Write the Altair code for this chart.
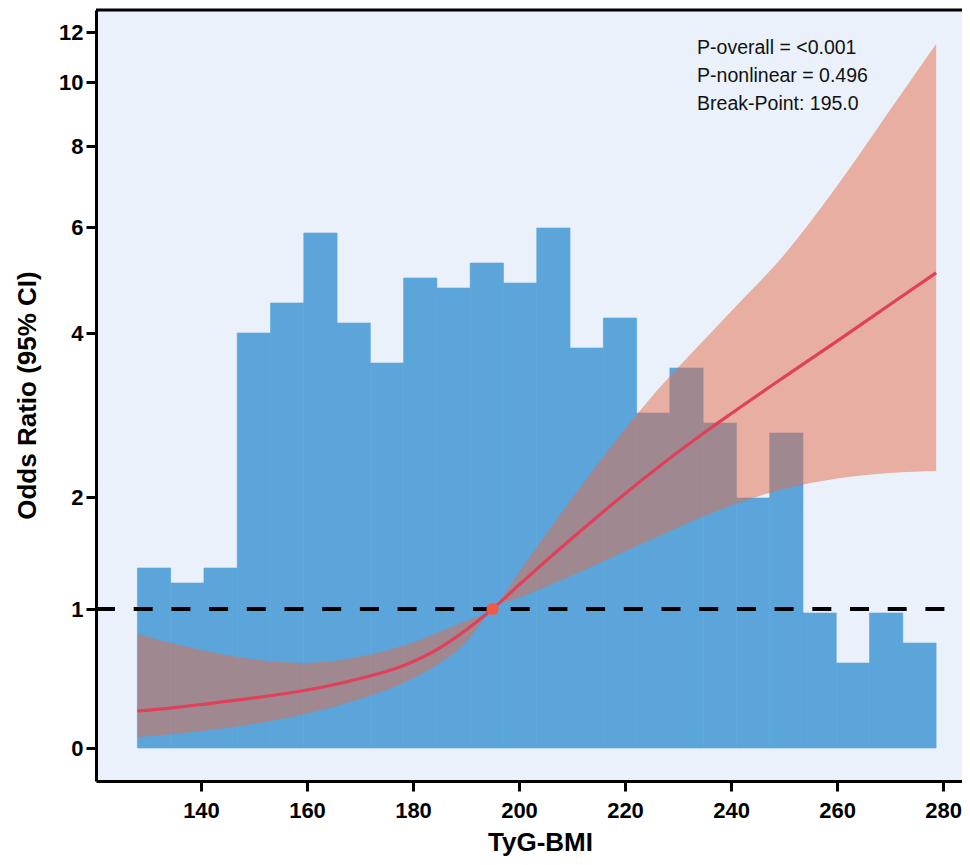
import altair as alt
import pandas as pd

# ---- data ----
tyg_bmi = [128, 135, 140, 150, 160, 170, 178, 185, 190, 195, 200, 205, 210, 215,
           220, 225, 230, 235, 240, 250, 260, 270, 278.7]
odds_ratio = [0.266, 0.291, 0.313, 0.360, 0.417, 0.500, 0.590, 0.719, 0.849, 1.000,
              1.215, 1.426, 1.632, 1.833, 2.040, 2.299, 2.548, 2.787, 3.016, 3.462,
              3.901, 4.538, 5.136]
ci_low = [0.079, 0.101, 0.122, 0.173, 0.248, 0.353, 0.464, 0.609, 0.759, 1.000,
          1.098, 1.196, 1.299, 1.406, 1.513, 1.621, 1.728, 1.830, 1.924, 2.098,
          2.226, 2.293, 2.317]
ci_high = [0.820, 0.748, 0.705, 0.637, 0.612, 0.658, 0.734, 0.835, 0.914, 1.000,
           1.330, 1.661, 1.987, 2.415, 2.829, 3.220, 3.579, 3.921, 4.406, 5.472,
           7.012, 9.125, 11.52]

hist_bin_start = 128.0
hist_bin_width = 6.279
hist_counts = [36, 33, 36, 83, 89, 103, 85, 77, 94, 92, 97, 93, 104, 80, 86, 67,
               76, 65, 50, 63, 27, 17, 27, 21]

break_point = [195.0]
break_or = [1.0]

y_tick_values = [0, 1, 2, 4, 6, 8, 10, 12]
x_tick_values = [140, 160, 180, 200, 220, 240, 260, 280]

ann_lines = ["P-overall = <0.001", "P-nonlinear = 0.496", "Break-Point: 195.0"]
ann_x = [233.6, 233.6, 233.6]
ann_y = [11.12, 10.0, 9.12]

# ---- tables ----
curve_df = pd.DataFrame({"tyg": tyg_bmi, "or": odds_ratio, "lo": ci_low, "hi": ci_high})
hist_df = pd.DataFrame({
    "start": [hist_bin_start + i * hist_bin_width for i in range(len(hist_counts))],
    "end": [hist_bin_start + (i + 1) * hist_bin_width for i in range(len(hist_counts))],
    "count": hist_counts,
    "base": [0] * len(hist_counts),
})
bp_df = pd.DataFrame({"tyg": break_point, "or": break_or})
ref_df = pd.DataFrame({"ref": [1.0]})
top_df = pd.DataFrame({"top": [12.88]})
ann_df = pd.DataFrame({"tyg": ann_x, "or": ann_y, "label": ann_lines})

W, H = 866, 771

x_scale = alt.Scale(domain=[120.19, 283.58], nice=False, zero=False)
# the reference's odds-ratio axis is a stretched (non-linear) one: piecewise scale
y_scale = alt.Scale(domain=[-0.237] + y_tick_values + [12.88],
                    range=[771, 738, 599, 487, 323, 217, 136, 72, 22, 0],
                    nice=False, zero=False)
hist_scale = alt.Scale(domain=[-6.6, 147.6], nice=False, zero=False)

x_axis = alt.Axis(values=x_tick_values, format="d", title="TyG-BMI",
                  titleX=444, titleY=61, titleBaseline="middle", titleAlign="center",
                  labelPadding=9)
y_axis = alt.Axis(values=y_tick_values, format="d", title="Odds Ratio (95% CI)",
                  titleX=-69, titleY=385, titleAngle=-90, titleBaseline="middle",
                  titleAlign="center", labelPadding=3)


def xenc(field):
    return alt.X(field, type="quantitative", scale=x_scale, axis=x_axis)


def yenc(field):
    return alt.Y(field, type="quantitative", scale=y_scale, axis=y_axis)


hist = alt.Chart(hist_df).mark_rect(color="#5BA5DA", stroke="#5BA5DA",
                                    strokeWidth=0.6).encode(
    x=xenc("start"), x2="end",
    y=alt.Y("base:Q", scale=hist_scale, axis=None), y2="count",
)

band = alt.Chart(curve_df).mark_area(color="#E66C48", opacity=0.5,
                                     interpolate="monotone").encode(
    x=xenc("tyg"), y=yenc("lo"), y2="hi",
)

ref = alt.Chart(ref_df).mark_rule(color="black", strokeWidth=4,
                                  strokeDash=[19, 18.7],
                                  strokeDashOffset=20.1).encode(y=yenc("ref"))

top_border = alt.Chart(top_df).mark_rule(color="black", strokeWidth=3).encode(
    y=yenc("top"))

line = alt.Chart(curve_df).mark_line(color="#E0405A", strokeWidth=3.2,
                                     interpolate="monotone").encode(
    x=xenc("tyg"), y=yenc("or"),
)

point = alt.Chart(bp_df).mark_circle(color="#EE5A45", opacity=1, size=150).encode(
    x=xenc("tyg"), y=yenc("or"),
)

text = alt.Chart(ann_df).mark_text(align="left", baseline="alphabetic", fontSize=19.5,
                                   font="Liberation Sans", color="#111111").encode(
    x=xenc("tyg"), y=yenc("or"), text="label:N",
)

inner = alt.layer(band, ref, line, point, text, top_border)

chart = alt.layer(hist, inner).resolve_scale(y="independent").properties(
    width=W, height=H,
    autosize=alt.AutoSizeParams(type="none"),
    padding={"left": 88, "top": 2, "right": 0, "bottom": 76},
).configure_view(
    fill="#EAF1FA", stroke=None,
).configure_axis(
    domain=True, domainColor="black", domainWidth=3, grid=False,
    labelFont="Liberation Sans", labelFontWeight="bold", labelFontSize=22,
    labelColor="black",
    tickColor="black", tickWidth=3, tickSize=10,
    titleFont="Liberation Sans", titleFontWeight="bold", titleFontSize=26,
    titleColor="black",
)

chart.save("out.html", embed_options={"renderer": "svg", "actions": False})
